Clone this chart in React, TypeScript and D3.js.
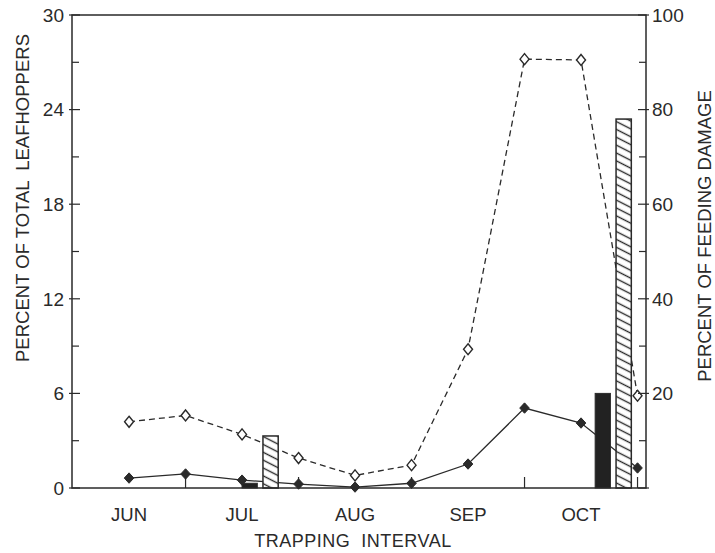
import React from "react";
import * as d3 from "d3";

// ---- data ----
const monthLabels = ["JUN", "JUL", "AUG", "SEP", "OCT"];
// trapping intervals (half-month steps), index 0 = JUN
const intervalIndex = [0, 1, 2, 3, 4, 5, 6, 7, 8, 9];
const openSeries = [4.2, 4.6, 3.4, 1.9, 0.8, 1.45, 8.8, 27.2, 27.15, 5.85];
const solidSeries = [0.63, 0.89, 0.5, 0.25, 0.06, 0.3, 1.52, 5.07, 4.12, 1.27];
const barMonths = ["JUL", "OCT"];
const solidBarDamage = [1, 20];
const hatchedBarDamage = [11, 78];
const leftTicks = [0, 6, 12, 18, 24, 30];
const rightTicks = [0, 20, 40, 60, 80, 100];

const W = 715;
const H = 553;
const left = 72;
const right = 646;
const top = 15;
const bottom = 488;
const ink = "#2a2a2a";
const font = "'Liberation Sans', Arial, Helvetica, sans-serif";

export default function App() {
  const x = d3.scaleLinear().domain([-1.01, 9.15]).range([left, right]);
  const yL = d3.scaleLinear().domain([0, 30]).range([bottom, top]);
  const yR = d3.scaleLinear().domain([0, 100]).range([bottom, top]);

  const line = d3
    .line<number>()
    .x((_, i) => x(intervalIndex[i]))
    .y((d) => yL(d));

  const monthIdx = (m: string) => monthLabels.indexOf(m) * 2;
  // bar group start offsets (in interval units) per bar month
  const groupStart = [0.0, 0.25];
  const barW = 0.27;
  const barGap = 0.1;

  const leftMinor = d3.range(3, 30, 6);
  const rightMinor = d3.range(10, 100, 20);
  const xMinor = intervalIndex.filter((i) => i % 2 === 1);

  const diamond = (cx: number, cy: number, hw: number, hh: number) =>
    `M${cx},${cy - hh}L${cx + hw},${cy}L${cx},${cy + hh}L${cx - hw},${cy}Z`;

  return (
    <svg
      width={W}
      height={H}
      style={{ position: "absolute", left: 0, top: 0, background: "#fff" }}
      fontFamily={font}
    >
      <defs>
        <pattern
          id="hatch"
          patternUnits="userSpaceOnUse"
          width={8}
          height={7}
          patternTransform="rotate(27)"
        >
          <rect width={8} height={7} fill="#fff" />
          <line x1={0} y1={3.5} x2={8} y2={3.5} stroke={ink} strokeWidth={1.4} />
        </pattern>
      </defs>

      {/* series lines */}
      <path d={line(openSeries) || ""} fill="none" stroke={ink} strokeWidth={1.3} strokeDasharray="6,4" />
      <path d={line(solidSeries) || ""} fill="none" stroke={ink} strokeWidth={1.3} />

      {/* x minor ticks (inside, upward) */}
      {xMinor.map((i) => (
        <line key={"xm" + i} x1={x(i)} x2={x(i)} y1={bottom} y2={bottom - 11} stroke={ink} strokeWidth={1.2} />
      ))}

      {/* bars */}
      {barMonths.map((m, k) => {
        const s = monthIdx(m) + groupStart[k];
        const x0 = x(s);
        const x1 = x(s + barW);
        const h0 = x(s + barW + barGap);
        const h1 = x(s + 2 * barW + barGap);
        return (
          <g key={m}>
            <rect x={x0} y={yR(solidBarDamage[k])} width={x1 - x0} height={bottom - yR(solidBarDamage[k])} fill="#222" stroke={ink} strokeWidth={1} />
            <rect x={h0} y={yR(hatchedBarDamage[k])} width={h1 - h0} height={bottom - yR(hatchedBarDamage[k])} fill="url(#hatch)" stroke={ink} strokeWidth={1.5} />
          </g>
        );
      })}

      {/* markers */}
      {openSeries.map((v, i) => (
        <path key={"o" + i} d={diamond(x(intervalIndex[i]), yL(v), 4.5, 5.5)} fill="#fff" stroke={ink} strokeWidth={1.4} />
      ))}
      {solidSeries.map((v, i) => (
        <path key={"s" + i} d={diamond(x(intervalIndex[i]), yL(v), 4.8, 5.2)} fill={ink} stroke={ink} strokeWidth={1} />
      ))}

      {/* frame */}
      <rect x={left} y={top} width={right - left} height={bottom - top} fill="none" stroke={ink} strokeWidth={1.5} />

      {/* left axis ticks */}
      {leftTicks.map((t) => (
        <g key={"lt" + t}>
          <line x1={left - 3} x2={left + 8} y1={yL(t)} y2={yL(t)} stroke={ink} strokeWidth={1.2} />
          <text x={left - 8} y={yL(t)} dy="0.36em" textAnchor="end" fontSize={19} fill={ink}>
            {t}
          </text>
        </g>
      ))}
      {leftMinor.map((t) => (
        <line key={"lm" + t} x1={left} x2={left + 7} y1={yL(t)} y2={yL(t)} stroke={ink} strokeWidth={1.2} />
      ))}

      {/* right axis ticks */}
      {rightTicks.map((t) => (
        <g key={"rt" + t}>
          <line x1={right - 8} x2={right + 3} y1={yR(t)} y2={yR(t)} stroke={ink} strokeWidth={1.2} />
          {t > 0 && (
            <text x={right + 6} y={yR(t)} dy="0.36em" textAnchor="start" fontSize={19} fill={ink}>
              {t}
            </text>
          )}
        </g>
      ))}
      {rightMinor.map((t) => (
        <line key={"rm" + t} x1={right - 7} x2={right} y1={yR(t)} y2={yR(t)} stroke={ink} strokeWidth={1.2} />
      ))}

      {/* x labels */}
      {monthLabels.map((m, i) => (
        <text key={m} x={x(i * 2)} y={521} textAnchor="middle" fontSize={18.5} fill={ink}>
          {m}
        </text>
      ))}
      <text x={353} y={547} textAnchor="middle" fontSize={18} fill={ink} letterSpacing={0.5} style={{ whiteSpace: "pre" }}>
        {"TRAPPING  INTERVAL"}
      </text>

      {/* axis titles */}
      <text
        transform={`translate(29,198) rotate(-90)`}
        textAnchor="middle"
        fontSize={18.5}
        fill={ink}
        style={{ whiteSpace: "pre" }}
      >
        {"PERCENT OF TOTAL  LEAFHOPPERS"}
      </text>
      <text
        transform={`translate(711,236) rotate(-90)`}
        textAnchor="middle"
        fontSize={18.5}
        fill={ink}
        style={{ whiteSpace: "pre" }}
      >
        {"PERCENT OF FEEDING DAMAGE"}
      </text>
    </svg>
  );
}
